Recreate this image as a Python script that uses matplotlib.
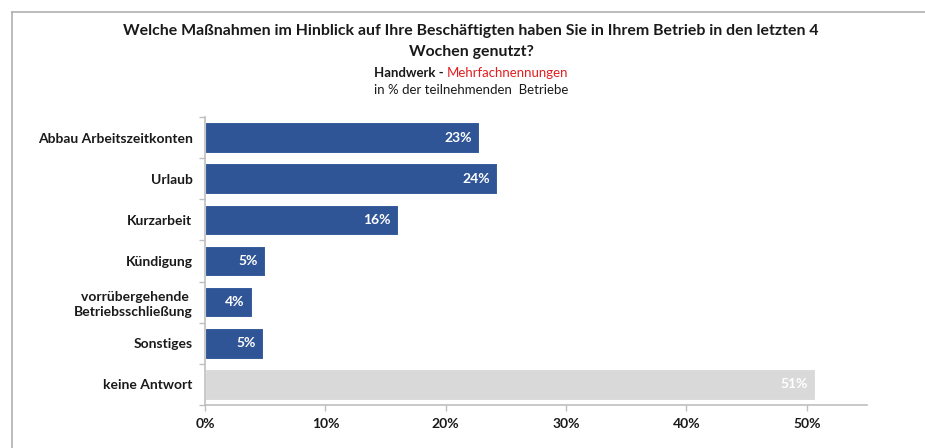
import matplotlib
matplotlib.use("Agg")
import matplotlib.pyplot as plt
from matplotlib.lines import Line2D

plt.rcParams["font.family"] = ["Lato", "DejaVu Sans"]

categories = [
    "Abbau Arbeitszeitkonten",
    "Urlaub",
    "Kurzarbeit",
    "Kündigung",
    "vorrübergehende \nBetriebsschließung",
    "Sonstiges",
    "keine Antwort",
]
values = [22.8, 24.3, 16.0, 5.0, 3.9, 4.8, 50.7]
labels = ["23%", "24%", "16%", "5%", "4%", "5%", "51%"]
xticks = [0, 10, 20, 30, 40, 50]

BLUE = "#2f5597"
GREY = "#d9d9d9"
AXIS = "#bfbfbf"
TEXT = "#1a1a1a"

W, H = 925, 448
fig = plt.figure(figsize=(W / 100, H / 100), dpi=100)
ax = fig.add_axes([205 / W, 1 - 405 / H, (867 - 205) / W, (405 - 117) / H])

ypos = list(range(len(categories)))
colors = [BLUE] * (len(categories) - 1) + [GREY]
bars = ax.barh(ypos, values, height=0.74, color=colors, edgecolor="white", linewidth=0.8)

for bar, lab in zip(bars, labels):
    ax.text(bar.get_width() - 0.6, bar.get_y() + bar.get_height() / 2, lab,
            ha="right", va="center", color="white", fontsize=10, fontweight="bold")

ax.set_ylim(len(categories) - 0.5, -0.5)
ax.set_xlim(0, 55)
ax.set_yticks(ypos)
ax.set_yticklabels(categories, fontsize=10, fontweight="bold", color=TEXT, linespacing=1.3)
ax.set_yticks([y + 0.5 for y in range(-1, len(categories))], minor=True)
ax.tick_params(axis="y", which="major", length=0, pad=9)
ax.tick_params(axis="y", which="minor", length=4, color=AXIS, width=1)
ax.set_xticks(xticks)
ax.set_xticklabels([f"{t}%" for t in xticks], fontsize=10, fontweight="bold", color=TEXT)
ax.tick_params(axis="x", length=4, color=AXIS, width=1, pad=5)

for side in ("top", "right"):
    ax.spines[side].set_visible(False)
for side in ("left", "bottom"):
    ax.spines[side].set_color(AXIS)
    ax.spines[side].set_linewidth(1.2)

# outer frame of the original slide
fig.add_artist(Line2D([12 / W, 12 / W], [0, 1 - 12 / H], transform=fig.transFigure, color="#b0b0b0", lw=1.2))
fig.add_artist(Line2D([12 / W, 1], [1 - 12 / H, 1 - 12 / H], transform=fig.transFigure, color="#b0b0b0", lw=1.2))

cx = 471 / W
fig.text(cx, 1 - 31 / H, "Welche Maßnahmen im Hinblick auf Ihre Beschäftigten haben Sie in Ihrem Betrieb in den letzten 4",
         ha="center", va="center", fontsize=11.4, fontweight="bold", color=TEXT)
fig.text(cx, 1 - 52 / H, "Wochen genutzt?", ha="center", va="center", fontsize=11.4, fontweight="bold", color=TEXT)
split = 447 / W
fig.text(split, 1 - 73 / H, "Handwerk - ", ha="right", va="center", fontsize=9.5, fontweight="bold", color=TEXT)
fig.text(split, 1 - 73 / H, "Mehrfachnennungen", ha="left", va="center", fontsize=9.5, color="#e02020")
fig.text(cx, 1 - 90 / H, "in % der teilnehmenden  Betriebe", ha="center", va="center", fontsize=9.5, color=TEXT)

fig.savefig("out.png", dpi=100)
